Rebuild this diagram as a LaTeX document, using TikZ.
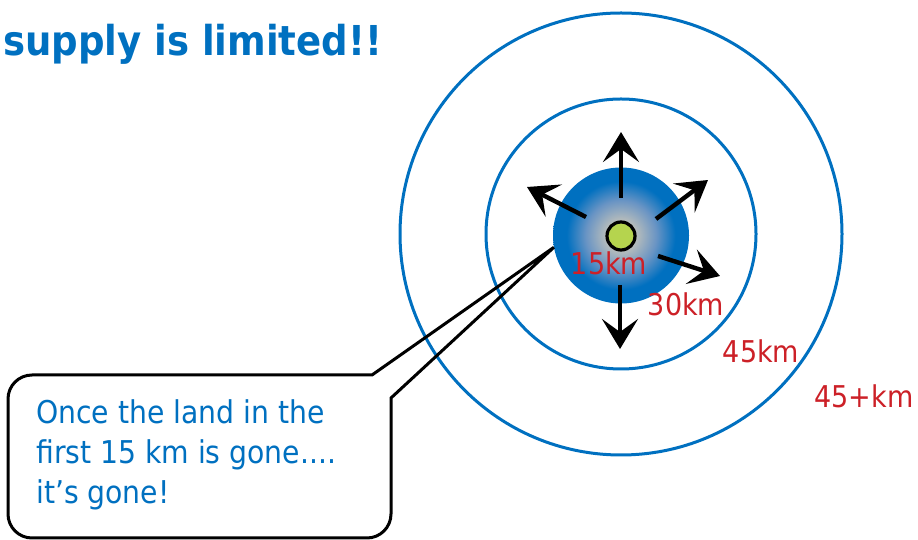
\documentclass[tikz,border=0pt]{standalone}
\usepackage{fontspec}
\setmainfont{DejaVu Sans Condensed}
\usepackage{tikz}
\usetikzlibrary{arrows.meta}
\definecolor{slideblue}{RGB}{0,112,192}
\definecolor{kmred}{RGB}{204,32,39}
\definecolor{towngreen}{RGB}{181,212,78}
\definecolor{landcore}{RGB}{214,214,165}
\definecolor{landgray}{RGB}{178,186,188}
\definecolor{landmid}{RGB}{105,148,196}
\pgfdeclareradialshading{landshade}{\pgfpoint{0bp}{0bp}}{%
  color(0bp)=(landcore); color(6bp)=(landgray); color(13bp)=(landmid);
  color(20bp)=(slideblue); color(25bp)=(slideblue); color(50bp)=(slideblue)}
\tikzset{
  ring/.style    = {circle, draw=slideblue, line width=3pt, inner sep=0pt},
  spread/.style  = {-{Stealth[length=30pt 0 0, width=36pt 0 0, inset=13pt 0 0]}, line width=4.4pt},
  kmlabel/.style = {text=kmred, inner sep=0pt, font=\fontsize{30}{30}\selectfont},
  callout/.style = {draw, line width=3pt},
}

\begin{document}
\begin{tikzpicture}[x=1pt, y=1pt]
\useasboundingbox (0,0) rectangle (918,540);

% ========== title ==========
\node[anchor=base west, inner sep=0pt, text=slideblue,
      font=\bfseries\fontsize{41.2}{41.2}\selectfont] (title) at (3,484) {supply is limited!!};

% ========== rings ==========
\node[ring, minimum size=442pt] (ring45) at (621,306) {};
\node[ring, minimum size=270pt] (ring30) at (621,306) {};

\node[circle, minimum size=136pt, inner sep=0pt, shading=landshade] (land) at (621,304.5) {};
\node[circle, draw, line width=3.2pt, fill=towngreen, minimum size=28pt, inner sep=0pt] (town) at (621,304) {};

% arrows spreading out
\foreach \fx/\fy/\tx/\ty in {0/38/0/104, -1/-49/-1/-113, -35/19/-94/49, 35/17/87/56, 37/-20/99/-40}
  \draw[spread] ([shift={(\fx,\fy)}]town.center) -- ([shift={(\tx,\ty)}]town.center);

% ========== distance labels ==========
\node[kmlabel] (km15) at (609,277) {15km};
\node[kmlabel] (km30) at (686,236) {30km};
\node[kmlabel] (km45) at (761,189) {45km};
\node[kmlabel] (km45plus) at (864,144) {45+km};

% ========== callout ==========
\coordinate (notetop) at (372,165);
\coordinate (noteside) at (391,142);
\draw[callout] (notetop) [rounded corners=24pt] -- (8,165) -- (8,2) -- (391,2)
  [sharp corners] -- (noteside) -- (land.190) -- cycle;
\node[anchor=north west, inner sep=0pt, align=left, text=slideblue,
      font=\fontsize{31.4}{40}\selectfont] (note) at (36,141)
  {Once the land in the\\first 15 km is gone....\\it’s gone!};

\end{tikzpicture}
\end{document}
